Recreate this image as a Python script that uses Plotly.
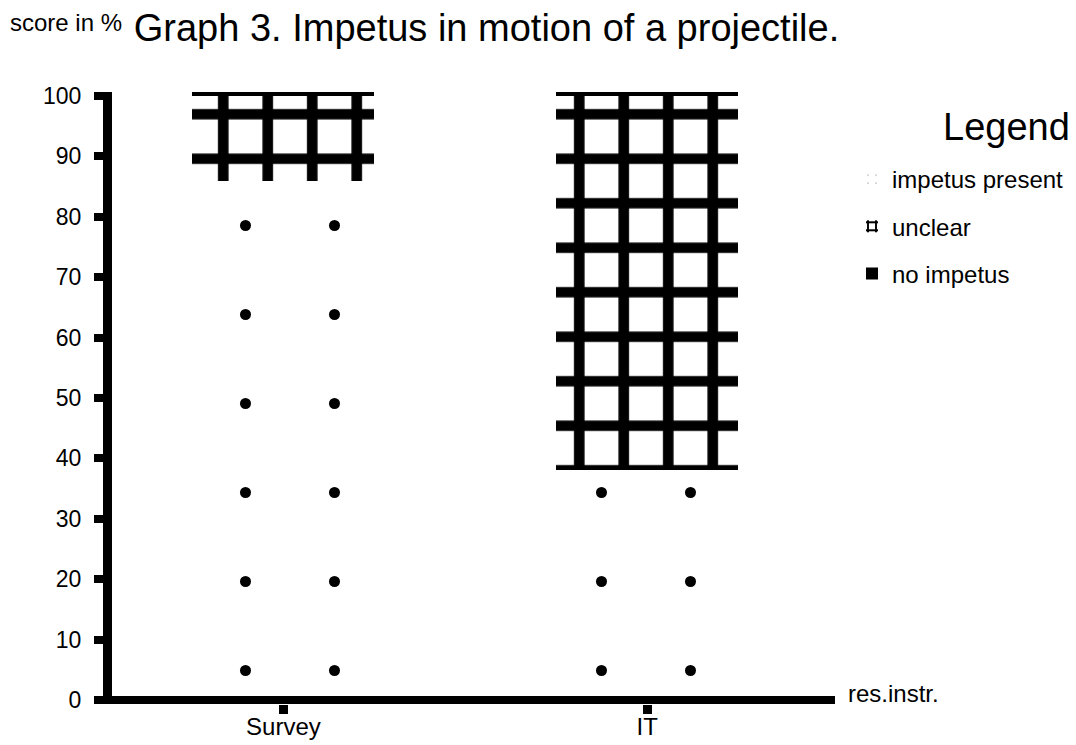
import plotly.graph_objects as go

categories = ["Survey", "IT"]
impetus_present = [86, 38]
unclear = [14, 62]
no_impetus = [0.7, 0.7]
y_ticks = list(range(0, 101, 10))

FONT = "Liberation Sans, Arial, Helvetica, sans-serif"

# The page body adds an 8 px offset; layout below is in figure pixels.
OFF = 8
PL, PR, PT, PB = 112, 835, 92, 704  # plot area edges in page pixels
PW, PH = PR - PL, PB - PT


def px(x):
    return (x - PL) / PW


def py(y):
    return (PB - y) / PH


fig = go.Figure()
fig.add_trace(go.Bar(
    x=categories, y=impetus_present, name="impetus present", width=0.5,
    legendgroup="a",
    marker=dict(color="rgba(0,0,0,0)", line=dict(width=0),
                pattern=dict(shape=".", size=89, solidity=0.012,
                             fgcolor="black", bgcolor="rgba(0,0,0,0)", fgopacity=1)),
))
fig.add_trace(go.Bar(
    x=categories, y=unclear, name="unclear", width=0.5,
    legendgroup="b",
    marker=dict(color="white", line=dict(width=0),
                pattern=dict(shape="+", size=44.5, solidity=0.42,
                             fgcolor="black", bgcolor="white", fgopacity=1)),
))
fig.add_trace(go.Bar(
    x=categories, y=no_impetus, name="no impetus", width=0.5,
    legendgroup="c",
    marker=dict(color="black", line=dict(width=0)),
))

fig.update_layout(
    barmode="stack",
    width=1076, height=745,
    margin=dict(l=PL - OFF, r=1076 - (PR - OFF), t=PT - OFF, b=745 - (PB - OFF)),
    paper_bgcolor="white", plot_bgcolor="white",
    font=dict(family=FONT, color="black", size=24),
    title=dict(text="Graph 3. Impetus in motion of a projectile.",
               x=(486.5 - OFF) / 1076, xref="container", xanchor="center",
               y=1 - 6 / 745, yref="container", yanchor="top",
               font=dict(size=38, family=FONT, color="black")),
    showlegend=True,
    legend=dict(
        x=(892 - OFF - 40) / 1076, xref="container", xanchor="left",
        y=1 - (157 - OFF) / 745, yref="container", yanchor="top",
        traceorder="grouped", tracegroupgap=13,
        font=dict(size=24), bgcolor="rgba(0,0,0,0)",
    ),
    xaxis=dict(
        type="category", range=[-0.471, 1.516], automargin=False,
        showline=False, showgrid=False, zeroline=False,
        ticks="outside", ticklen=9, tickwidth=9, tickcolor="black",
        tickfont=dict(size=24), ticklabelstandoff=-8,
    ),
    yaxis=dict(
        range=[-0.66, 100.66], tickvals=y_ticks, automargin=False,
        showline=True, linewidth=9, linecolor="black",
        showgrid=False,
        zeroline=True, zerolinewidth=8, zerolinecolor="black",
        ticks="outside", ticklen=9, tickwidth=8, tickcolor="black",
        tickfont=dict(size=23), ticklabelstandoff=8,
    ),
    annotations=[
        dict(text="score in %", xref="paper", yref="paper",
             x=px(8), y=py(23),
             xanchor="left", yanchor="middle", showarrow=False,
             font=dict(size=24)),
        dict(text="res.instr.", xref="paper", yref="paper",
             x=px(846), y=py(693),
             xanchor="left", yanchor="middle", showarrow=False,
             font=dict(size=24)),
        dict(text="Legend", xref="paper", yref="paper",
             x=px(1072), y=py(127),
             xanchor="right", yanchor="middle", showarrow=False,
             font=dict(size=38)),
    ],
)

fig.write_html("out.html")
